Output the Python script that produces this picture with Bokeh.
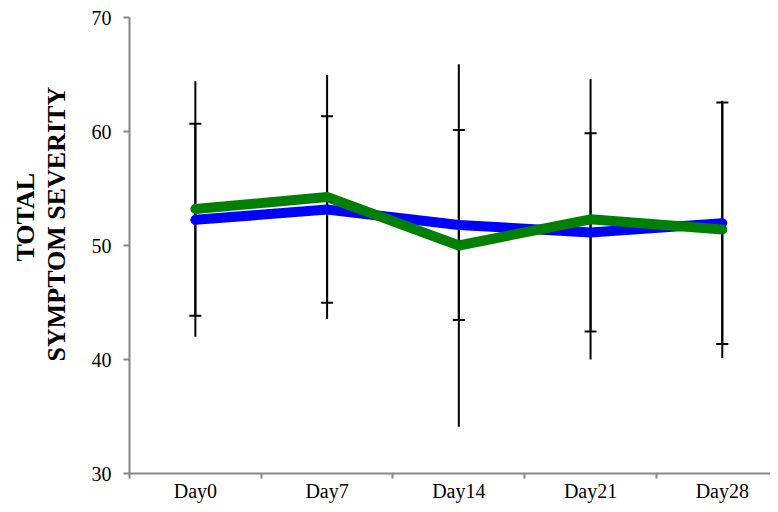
from bokeh.plotting import figure
from bokeh.models import Range1d, FixedTicker, Title, ColumnDataSource
from bokeh.embed import file_html
from bokeh.resources import INLINE

days = ["Day0", "Day7", "Day14", "Day21", "Day28"]
blue_mean = [52.25, 53.15, 51.8, 51.15, 51.95]
blue_sd = [8.42, 8.18, 8.33, 8.7, 10.6]
green_mean = [53.2, 54.25, 50.0, 52.3, 51.4]
green_sd = [11.2, 10.7, 15.9, 12.3, 11.3]
y_ticks = [30, 40, 50, 60, 70]
y_title = ["SYMPTOM SEVERITY", "TOTAL"]

x = list(range(len(days)))

src = ColumnDataSource(dict(
    x=x,
    bm=blue_mean,
    gm=green_mean,
    b_lo=[m - s for m, s in zip(blue_mean, blue_sd)],
    b_hi=[m + s for m, s in zip(blue_mean, blue_sd)],
    g_lo=[m - s for m, s in zip(green_mean, green_sd)],
    g_hi=[m + s for m, s in zip(green_mean, green_sd)],
))

FONT = "Liberation Serif"
AXIS_GRAY = "#868686"

p = figure(width=770, height=504, output_backend="svg", toolbar_location=None,
           x_range=Range1d(-0.5, 4.366), y_range=Range1d(y_ticks[0], y_ticks[-1]),
           min_border_left=129, min_border_right=0, min_border_top=17, min_border_bottom=31)
p.outline_line_color = None
p.xgrid.visible = False
p.ygrid.visible = False
p.background_fill_color = "white"
p.border_fill_color = "white"

# error bars (green: no caps, blue: caps)
p.segment(x0="x", y0="g_lo", x1="x", y1="g_hi", source=src, line_color="black", line_width=2)
p.segment(x0="x", y0="b_lo", x1="x", y1="b_hi", source=src, line_color="black", line_width=2)
p.scatter(x="x", y="b_lo", source=src, marker="dash", size=12, line_color="black", line_width=2)
p.scatter(x="x", y="b_hi", source=src, marker="dash", size=12, line_color="black", line_width=2)

# lines
p.line(x="x", y="bm", source=src, line_color="#0000FF", line_width=10,
       line_cap="round", line_join="round")
p.line(x="x", y="gm", source=src, line_color="#008000", line_width=10,
       line_cap="round", line_join="round")

# x axis: ticks at category boundaries, labels at centres
xa = p.xaxis[0]
xa.ticker = FixedTicker(ticks=x, minor_ticks=[i - 0.5 for i in x] + [len(x) - 0.5])
xa.major_label_overrides = {i: d for i, d in zip(x, days)}
xa.major_tick_out = 0
xa.major_tick_in = 0
xa.minor_tick_out = 5
xa.minor_tick_in = 0
xa.minor_tick_line_color = AXIS_GRAY
xa.minor_tick_line_width = 2
xa.axis_line_color = AXIS_GRAY
xa.axis_line_width = 2
xa.major_label_text_font = FONT
xa.major_label_text_font_size = "20px"
xa.major_label_text_color = "black"
xa.major_label_standoff = 1

# y axis
ya = p.yaxis[0]
ya.ticker = FixedTicker(ticks=y_ticks)
ya.major_tick_out = 6
ya.major_tick_in = 0
ya.minor_tick_out = 0
ya.minor_tick_in = 0
ya.major_tick_line_color = AXIS_GRAY
ya.major_tick_line_width = 2
ya.axis_line_color = AXIS_GRAY
ya.axis_line_width = 2
ya.major_label_text_font = FONT
ya.major_label_text_font_size = "20px"
ya.major_label_text_color = "black"
ya.major_label_standoff = 12

# spacer, then the two title lines (innermost first)
p.add_layout(Title(text=" ", text_font_size="1px", standoff=15), "left")
for txt, off in zip(y_title, [112, 212]):
    p.add_layout(Title(text=txt, align="left", offset=off, text_font=FONT,
                       text_font_size="26px", text_font_style="bold",
                       text_color="black", standoff=0), "left")

open("out.html", "w").write(file_html(p, INLINE))
